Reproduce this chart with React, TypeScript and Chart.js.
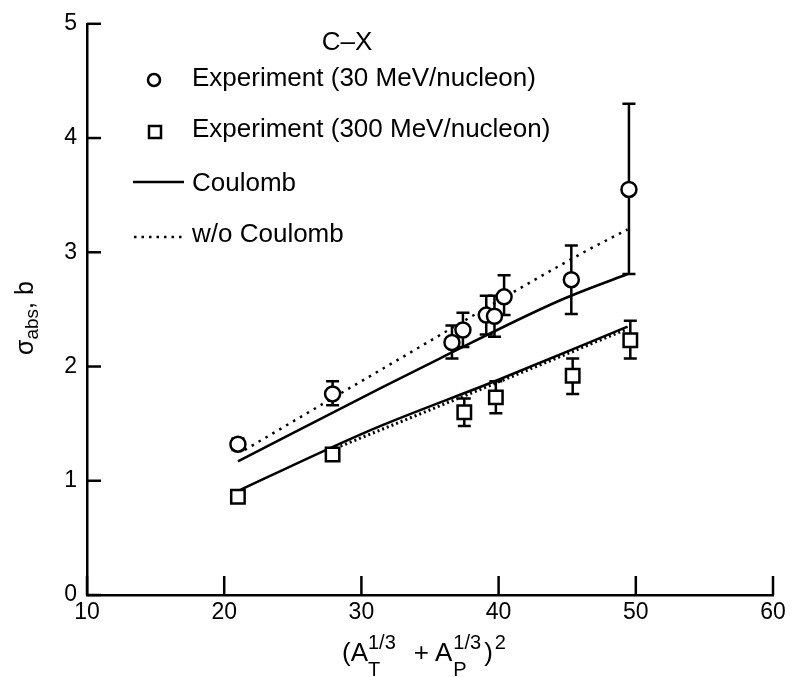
import React, { useEffect, useRef } from "react";
import { Chart, registerables } from "chart.js";

Chart.register(...registerables);

const FONT = '"Liberation Sans", Arial, Helvetica, sans-serif';

// Axis ticks
const xTickValues = [10, 20, 30, 40, 50, 60];
const yTickValues = [0, 1, 2, 3, 4, 5];

// Experiment (30 MeV/nucleon) - circles
const x30 = [21.0, 27.9, 36.6, 37.4, 39.1, 39.7, 40.4, 45.3, 49.5];
const y30 = [1.32, 1.76, 2.21, 2.32, 2.45, 2.44, 2.61, 2.76, 3.55];
const hi30 = [1.37, 1.87, 2.36, 2.47, 2.62, 2.62, 2.8, 3.06, 4.3];
const lo30 = [1.27, 1.66, 2.07, 2.17, 2.28, 2.26, 2.45, 2.46, 2.81];

// Experiment (300 MeV/nucleon) - squares
const x300 = [21.0, 27.9, 37.5, 39.8, 45.4, 49.6];
const y300 = [0.86, 1.23, 1.6, 1.73, 1.92, 2.23];
const hi300 = [0.88, 1.26, 1.72, 1.87, 2.07, 2.4];
const lo300 = [0.84, 1.2, 1.48, 1.59, 1.76, 2.07];

// Calculations
const xCoul30 = [21.0, 31.4, 35.7, 44.5, 49.4];
const yCoul30 = [1.17, 1.81, 2.07, 2.58, 2.81];
const xNoCoul30 = [21.5, 31.4, 45.9, 49.4];
const yNoCoul30 = [1.27, 1.97, 2.98, 3.2];
const xCoul300 = [21.0, 27.8, 31.4, 39.9, 49.4];
const yCoul300 = [0.91, 1.29, 1.48, 1.88, 2.35];
const xNoCoul300 = [27.8, 39.9, 49.4];
const yNoCoul300 = [1.27, 1.86, 2.33];

const pts = (xs: number[], ys: number[]) => xs.map((x, i) => ({ x, y: ys[i] }));

export default function App() {
  const ref = useRef<HTMLCanvasElement>(null);

  useEffect(() => {
    if (!ref.current) return;

    const errorBars = {
      id: "errorBars",
      beforeDatasetsDraw(chart: any) {
        const { ctx, scales } = chart;
        const xs = scales.x;
        const ys = scales.y;
        const sets = [
          [x30, hi30, lo30],
          [x300, hi300, lo300],
        ];
        ctx.save();
        ctx.strokeStyle = "#000";
        ctx.lineWidth = 2.5;
        sets.forEach(([xv, hv, lv]) => {
          xv.forEach((xx: number, i: number) => {
            const px = xs.getPixelForValue(xx);
            const ph = ys.getPixelForValue(hv[i]);
            const pl = ys.getPixelForValue(lv[i]);
            ctx.beginPath();
            ctx.moveTo(px, ph);
            ctx.lineTo(px, pl);
            ctx.moveTo(px - 6.5, ph);
            ctx.lineTo(px + 6.5, ph);
            ctx.moveTo(px - 6.5, pl);
            ctx.lineTo(px + 6.5, pl);
            ctx.stroke();
          });
        });
        ctx.restore();
      },
    };

    const decor = {
      id: "decor",
      afterDraw(chart: any) {
        const { ctx, scales, chartArea } = chart;
        const xs = scales.x;
        const ys = scales.y;
        ctx.save();
        ctx.strokeStyle = "#000";
        ctx.fillStyle = "#000";
        ctx.lineWidth = 2.5;
        // inward ticks
        xTickValues.forEach((v) => {
          const px = xs.getPixelForValue(v);
          ctx.beginPath();
          ctx.moveTo(px, chartArea.bottom);
          ctx.lineTo(px, chartArea.bottom - 19);
          ctx.stroke();
        });
        yTickValues.forEach((v) => {
          const py = ys.getPixelForValue(v);
          ctx.beginPath();
          ctx.moveTo(chartArea.left, py);
          ctx.lineTo(chartArea.left + 14, py);
          ctx.stroke();
        });

        // legend
        ctx.font = `26px ${FONT}`;
        ctx.textBaseline = "alphabetic";
        ctx.textAlign = "center";
        ctx.fillText("C\u2013X", 347, 50);
        ctx.textAlign = "left";
        ctx.beginPath();
        ctx.arc(154, 80, 6, 0, Math.PI * 2);
        ctx.stroke();
        ctx.fillText("Experiment (30 MeV/nucleon)", 192, 86);
        ctx.strokeRect(149, 126, 12, 12);
        ctx.fillText("Experiment (300 MeV/nucleon)", 192, 137);
        ctx.beginPath();
        ctx.moveTo(133, 182);
        ctx.lineTo(184, 182);
        ctx.stroke();
        ctx.fillText("Coulomb", 192, 191);
        ctx.save();
        ctx.setLineDash([2.5, 5]);
        ctx.beginPath();
        ctx.moveTo(134, 237);
        ctx.lineTo(184, 237);
        ctx.stroke();
        ctx.restore();
        ctx.fillText("w/o Coulomb", 192, 242);

        // y-axis title (rotated)
        ctx.save();
        ctx.translate(33, 355);
        ctx.rotate(-Math.PI / 2);
        ctx.font = `25px ${FONT}`;
        let x = 0;
        ctx.fillText("\u03c3", x, 0);
        x += ctx.measureText("\u03c3").width;
        ctx.font = `19px ${FONT}`;
        ctx.fillText("abs", x, 5);
        x += ctx.measureText("abs").width;
        ctx.font = `25px ${FONT}`;
        ctx.fillText(", b", x, 0);
        ctx.restore();

        // x-axis title
        const base = 661;
        const big = `26px ${FONT}`;
        const small = `20px ${FONT}`;
        let cx = 342;
        const put = (t: string, f: string, dy: number) => {
          ctx.font = f;
          ctx.fillText(t, cx, base + dy);
          return ctx.measureText(t).width;
        };
        cx += put("(A", big, 0);
        let w1 = put("T", small, 15);
        let w2 = put("1/3", small, -12);
        cx += Math.max(w1, w2) + 18;
        cx += put("+", big, 0) + 6;
        cx += put("A", big, 0) + 1;
        w1 = put("P", small, 15);
        w2 = put("1/3", small, -12);
        cx += Math.max(w1, w2) + 3;
        cx += put(")", big, 0) + 2;
        put("2", small, -12);
        ctx.restore();
      },
    };

    const lineDs = (label: string, xs: number[], ys: number[], dash: number[], width = 2.5) => ({
      label,
      data: pts(xs, ys),
      showLine: true,
      pointRadius: 0,
      borderColor: "#000",
      borderWidth: width,
      borderDash: dash,
      fill: false,
      cubicInterpolationMode: "monotone",
    });

    const chart = new Chart(ref.current, {
      type: "scatter",
      data: {
        datasets: [
          {
            label: "Experiment (30 MeV/nucleon)",
            data: pts(x30, y30),
            pointStyle: "circle",
            pointRadius: 7.5,
            borderWidth: 2.5,
            borderColor: "#000",
            backgroundColor: "#fff",
          },
          {
            label: "Experiment (300 MeV/nucleon)",
            data: pts(x300, y300),
            pointStyle: "rect",
            pointRadius: 9.5,
            borderWidth: 2.5,
            borderColor: "#000",
            backgroundColor: "#fff",
          },
          lineDs("Coulomb 30", xCoul30, yCoul30, []),
          lineDs("w/o Coulomb 30", xNoCoul30, yNoCoul30, [2.5, 5.5]),
          lineDs("Coulomb 300", xCoul300, yCoul300, []),
          lineDs("w/o Coulomb 300", xNoCoul300, yNoCoul300, [2, 3], 3),
        ] as any,
      },
      options: {
        responsive: false,
        animation: false,
        devicePixelRatio: 1,
        layout: { padding: { top: 20, right: 19, left: 0, bottom: 0 } },
        plugins: {
          legend: { display: false },
          tooltip: { enabled: false },
        },
        scales: {
          x: {
            type: "linear",
            min: 10,
            max: 60,
            ticks: {
              stepSize: 10,
              color: "#000",
              font: { family: FONT, size: 23 },
              padding: 4,
              maxRotation: 0,
            },
            grid: { display: false, drawTicks: false },
            border: { display: true, color: "#000", width: 2.5 },
            afterFit: (s: any) => {
              s.height = 82;
            },
          },
          y: {
            type: "linear",
            min: 0,
            max: 5,
            ticks: {
              stepSize: 1,
              color: "#000",
              font: { family: FONT, size: 23 },
              padding: 10,
            },
            grid: { display: false, drawTicks: false },
            border: { display: true, color: "#000", width: 2.5 },
            afterFit: (s: any) => {
              s.width = 87;
            },
          },
        },
      } as any,
      plugins: [errorBars, decor],
    });
    return () => chart.destroy();
  }, []);

  return (
    <div style={{ position: "fixed", left: 0, top: 0, width: 792, height: 677, background: "#fff" }}>
      <canvas ref={ref} width={792} height={677} style={{ width: 792, height: 677, display: "block" }} />
    </div>
  );
}
